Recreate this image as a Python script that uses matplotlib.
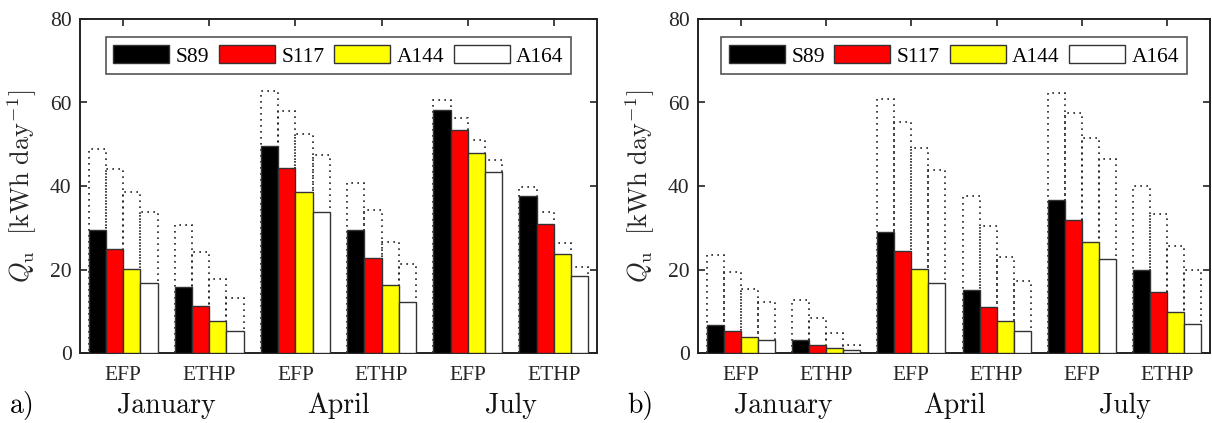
import numpy as np
import matplotlib
matplotlib.use("Agg")
import matplotlib.pyplot as plt

plt.rcParams['font.family'] = ['Liberation Serif', 'DejaVu Serif']
plt.rcParams['mathtext.fontset'] = 'cm'

# Categories
months = ["January", "April", "July"]
modes = ["EFP", "ETHP", "EFP", "ETHP", "EFP", "ETHP"]
series = ["S89", "S117", "A144", "A164"]
colors = ["#000000", "#FF0000", "#FFFF00", "#FFFFFF"]

# Panel a) solid (achieved) values, one list per collector
a_S89 = [29.4, 15.9, 49.5, 29.4, 58.1, 37.5]
a_S117 = [24.8, 11.3, 44.4, 22.8, 53.5, 31.0]
a_A144 = [20.2, 7.6, 38.6, 16.3, 48.0, 23.8]
a_A164 = [16.7, 5.2, 33.8, 12.3, 43.3, 18.4]
# Panel a) dotted (potential) values
a_S89_pot = [48.9, 30.6, 62.8, 40.7, 60.7, 39.8]
a_S117_pot = [44.0, 24.2, 58.0, 34.2, 56.4, 33.7]
a_A144_pot = [38.5, 17.7, 52.5, 26.6, 51.1, 26.4]
a_A164_pot = [33.8, 13.2, 47.5, 21.3, 46.3, 20.6]

# Panel b) solid values
b_S89 = [6.8, 3.2, 29.0, 15.2, 36.7, 20.0]
b_S117 = [5.2, 2.0, 24.4, 10.9, 31.9, 14.6]
b_A144 = [3.9, 1.1, 20.1, 7.6, 26.7, 9.8]
b_A164 = [3.0, 0.6, 16.8, 5.3, 22.6, 7.0]
# Panel b) dotted values
b_S89_pot = [23.4, 12.6, 60.9, 37.7, 62.2, 40.0]
b_S117_pot = [19.4, 8.5, 55.4, 30.5, 57.4, 33.2]
b_A144_pot = [15.3, 4.8, 49.1, 22.9, 51.6, 25.6]
b_A164_pot = [12.3, 1.8, 43.8, 17.3, 46.5, 20.0]

panels = [
    ("a)", [a_S89, a_S117, a_A144, a_A164], [a_S89_pot, a_S117_pot, a_A144_pot, a_A164_pot]),
    ("b)", [b_S89, b_S117, b_A144, b_A164], [b_S89_pot, b_S117_pot, b_A144_pot, b_A164_pot]),
]

fig = plt.figure(figsize=(12.12, 4.23), dpi=100)
ax_a = fig.add_axes([80 / 1212, 70 / 423, 517 / 1212, 334 / 423])
ax_b = fig.add_axes([698 / 1212, 70 / 423, 512 / 1212, 334 / 423])

x = np.arange(1, 7)
w = 0.2
tick_color = "#262626"

for ax, (tag, solid, pot) in zip([ax_a, ax_b], panels):
    # dotted outlines first, solid bars on top
    for k in range(4):
        pos = x + (k - 1.5) * w
        ax.bar(pos, pot[k], width=w, facecolor="none", edgecolor="#222222",
               linestyle=(0, (1, 2.6)), linewidth=1.2, zorder=2)
    handles = []
    for k in range(4):
        pos = x + (k - 1.5) * w
        h = ax.bar(pos, solid[k], width=w, color=colors[k], edgecolor="#333333",
                   linewidth=1.0, label=series[k], zorder=3)
        handles.append(h)

    ax.set_xlim(0.5, 6.5)
    ax.set_ylim(0, 80)
    ax.set_yticks([0, 20, 40, 60, 80])
    ax.set_xticks(x)
    ax.set_xticklabels(modes)
    ax.tick_params(axis="both", direction="in", length=5, width=1.2,
                   top=True, right=True, labelsize=15.5, colors="#222222",
                   labelcolor=tick_color)
    ax.tick_params(axis="x", pad=9)
    ax.tick_params(axis="y", pad=6)
    for s in ax.spines.values():
        s.set_linewidth(1.4)
        s.set_color("#222222")

    ax.set_ylabel(r"$Q_\mathrm{u}\ \ [\mathrm{kWh\ day}^{-1}]$", fontsize=19, color=tick_color)
    ax.yaxis.set_label_coords(-0.08, 0.5)

    for m, month in enumerate(months):
        ax.text(1.5 + 2 * m, -0.158, month, transform=ax.get_xaxis_transform(),
                ha="center", va="center", fontsize=20, color="#111111",
                family=["cmr10", "DejaVu Serif"])

    leg = ax.legend(handles=handles, loc="upper center", ncol=4, fontsize=15.5,
                    handlelength=2.6, handleheight=0.95, handletextpad=0.3,
                    columnspacing=0.45, borderpad=0.35, borderaxespad=0.85,
                    fancybox=False, framealpha=1)
    leg.get_frame().set_edgecolor("#555555")
    leg.get_frame().set_linewidth(1.2)

fig.text(22 / 1212, 1 - 405 / 423, "a)", ha="center", va="center", fontsize=20,
         family=["cmr10", "DejaVu Serif"])
fig.text(640 / 1212, 1 - 405 / 423, "b)", ha="center", va="center", fontsize=20,
         family=["cmr10", "DejaVu Serif"])

fig.savefig("out.png", dpi=100)
